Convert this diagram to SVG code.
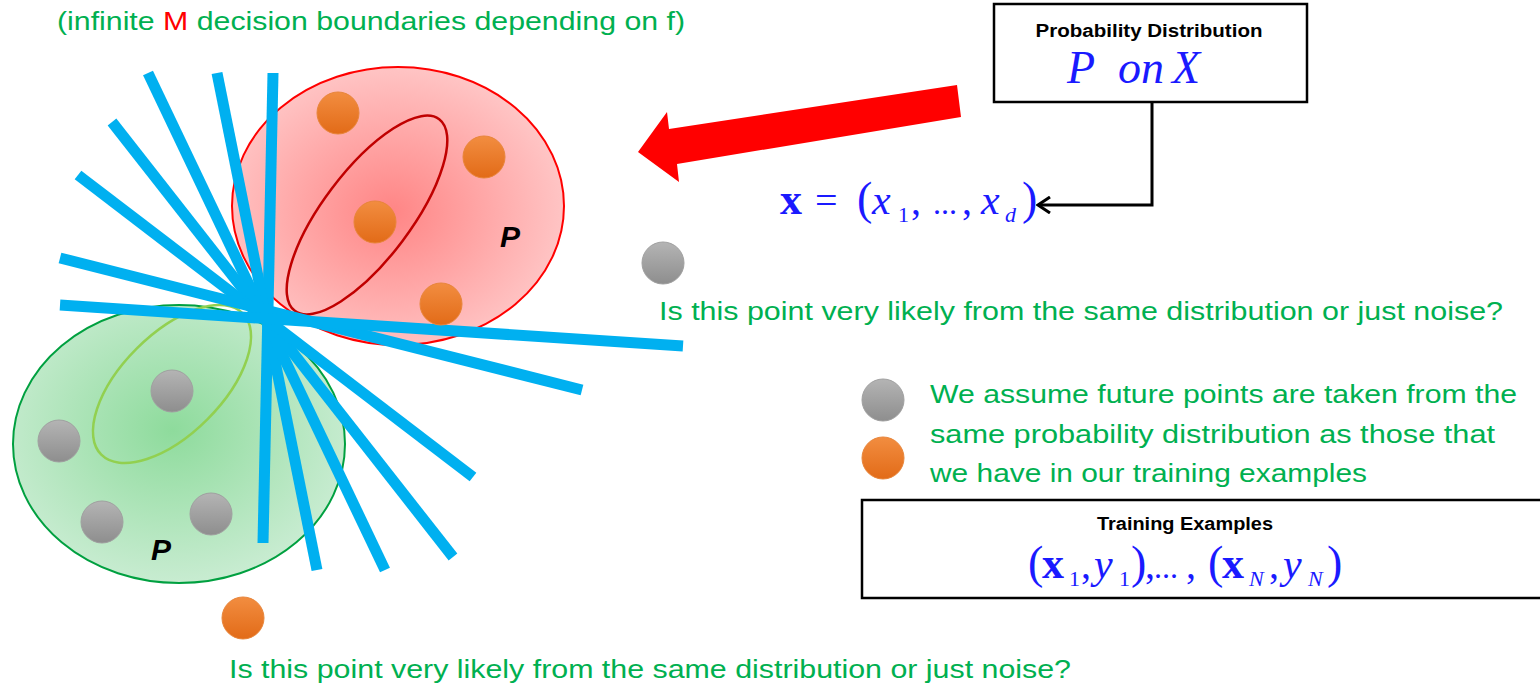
<svg xmlns="http://www.w3.org/2000/svg" width="1540" height="685" viewBox="0 0 1540 685">
<style>
.g{font-family:"Liberation Sans",Arial,sans-serif;fill:#00b050;font-size:25px}
.lbl{font-family:"Liberation Sans",Arial,sans-serif;font-weight:bold;fill:#000}
.m{font-family:"Liberation Serif","Times New Roman",serif;fill:#1a1aff}
.mi{font-style:italic}
.mb{font-weight:bold}
.sub{font-size:22px}
.par{font-size:46px}
.box{fill:#fff;stroke:#000;stroke-width:2.5}
.bl{stroke:#00b0f0;stroke-width:11;fill:none}
.od{fill:url(#og);stroke:#e8853a;stroke-width:1}
.gd{fill:url(#gg);stroke:#a0a0a0;stroke-width:1}
.P{font-family:"Liberation Sans",Arial,sans-serif;font-weight:bold;font-style:italic;font-size:30px;fill:#000}
</style>
<defs>
<radialGradient id="rg" cx="0.48" cy="0.52" r="0.55">
<stop offset="0" stop-color="#ff8585"/><stop offset="1" stop-color="#ffc8c8"/>
</radialGradient>
<radialGradient id="grg" cx="0.48" cy="0.45" r="0.55">
<stop offset="0" stop-color="#8edb9c"/><stop offset="1" stop-color="#c8ecd1"/>
</radialGradient>
<linearGradient id="og" x1="0" y1="0" x2="0" y2="1">
<stop offset="0" stop-color="#f28d40"/><stop offset="1" stop-color="#e26b18"/>
</linearGradient>
<linearGradient id="gg" x1="0" y1="0" x2="0" y2="1">
<stop offset="0" stop-color="#b4b4b4"/><stop offset="1" stop-color="#8e8e8e"/>
</linearGradient>
<marker id="chev" viewBox="0 0 16 18" refX="14" refY="9" markerWidth="16" markerHeight="18" orient="auto" markerUnits="userSpaceOnUse">
<path d="M2,1 L14,9 L2,17" fill="none" stroke="#000" stroke-width="3"/>
</marker>
</defs>
<rect width="1540" height="685" fill="#fff"/>

<text class="g" x="57" y="30" textLength="628" lengthAdjust="spacingAndGlyphs">(infinite <tspan fill="#ff0000">M</tspan> decision boundaries depending on f)</text>

<g id="red-distribution">
<ellipse cx="398" cy="206" rx="166" ry="139" fill="url(#rg)" stroke="#ff0000" stroke-width="2"/>
<ellipse cx="367" cy="215" rx="120" ry="44" transform="rotate(-53 367 215)" fill="none" stroke="#c00000" stroke-width="2.5"/>
<text class="P" x="500" y="247">P</text>
</g>

<g id="green-distribution">
<ellipse cx="179" cy="444" rx="166" ry="139" fill="url(#grg)" stroke="#00a040" stroke-width="2"/>
<ellipse cx="172" cy="384" rx="100" ry="50" transform="rotate(-45 172 384)" fill="none" stroke="#92d050" stroke-width="2.5"/>
<text class="P" x="151" y="560">P</text>
</g>

<g id="decision-boundaries">
<line class="bl" x1="273" y1="73" x2="263" y2="543"/>
<line class="bl" x1="217" y1="73" x2="317" y2="570"/>
<line class="bl" x1="148" y1="73" x2="385" y2="570"/>
<line class="bl" x1="112" y1="122" x2="453" y2="557"/>
<line class="bl" x1="78" y1="175" x2="473" y2="477"/>
<line class="bl" x1="60" y1="258" x2="582" y2="390"/>
<line class="bl" x1="60" y1="305" x2="683" y2="346"/>
</g>

<g id="points">
<circle class="od" cx="338" cy="113" r="21"/>
<circle class="od" cx="484" cy="157" r="21"/>
<circle class="od" cx="375" cy="222" r="21"/>
<circle class="od" cx="441" cy="304" r="21"/>
<circle class="gd" cx="172" cy="391" r="21"/>
<circle class="gd" cx="59" cy="441" r="21"/>
<circle class="gd" cx="102" cy="522" r="21"/>
<circle class="gd" cx="211" cy="514" r="21"/>
</g>

<g id="noise-gray">
<circle class="gd" cx="663" cy="263" r="21"/>
<text class="g" x="659" y="320" font-size="26" textLength="844" lengthAdjust="spacingAndGlyphs">Is this point very likely from the same distribution or just noise?</text>
</g>

<g id="noise-orange">
<circle class="od" cx="243" cy="618" r="21"/>
<text class="g" x="229" y="678" font-size="26" textLength="842" lengthAdjust="spacingAndGlyphs">Is this point very likely from the same distribution or just noise?</text>
</g>

<g id="legend">
<circle class="gd" cx="883" cy="400" r="21"/>
<circle class="od" cx="883" cy="458" r="21"/>
<text class="g" x="930" y="403" font-size="26" textLength="587" lengthAdjust="spacingAndGlyphs">We assume future points are taken from the</text>
<text class="g" x="930" y="443" font-size="26" textLength="565" lengthAdjust="spacingAndGlyphs">same probability distribution as those that</text>
<text class="g" x="930" y="482" font-size="26" textLength="437" lengthAdjust="spacingAndGlyphs">we have in our training examples</text>
</g>

<g id="probability-distribution">
<rect class="box" x="994" y="4" width="313" height="98"/>
<text class="lbl" x="1149" y="37" font-size="18" text-anchor="middle" textLength="227" lengthAdjust="spacingAndGlyphs">Probability Distribution</text>
<text class="m mi" y="83" font-size="46"><tspan x="1067">P</tspan><tspan x="1118">on</tspan><tspan x="1172">X</tspan></text>
</g>

<g id="x-vector">
<text class="m" y="214" font-size="40"><tspan x="780" class="mb" font-size="44">x</tspan><tspan x="815">=</tspan><tspan x="857" class="par">(</tspan><tspan x="872" class="mi" font-size="42">x</tspan><tspan x="898" y="222" class="sub">1</tspan><tspan x="911" y="214">,</tspan><tspan x="933" font-size="32">...</tspan><tspan x="962">,</tspan><tspan x="981" class="mi" font-size="42">x</tspan><tspan x="1005" y="222" class="sub mi">d</tspan><tspan x="1022" y="214" class="par">)</tspan></text>
</g>

<g id="training-examples">
<rect class="box" x="862" y="500" width="690" height="98"/>
<text class="lbl" x="1185" y="530" font-size="18" text-anchor="middle" textLength="176" lengthAdjust="spacingAndGlyphs">Training Examples</text>
<text class="m" y="578" font-size="40"><tspan x="1028" class="par">(</tspan><tspan x="1042" class="mb" font-size="44">x</tspan><tspan x="1069" y="586" class="sub">1</tspan><tspan x="1081" y="578">,</tspan><tspan x="1094" class="mi" font-size="42">y</tspan><tspan x="1119" y="586" class="sub">1</tspan><tspan x="1131" y="578" class="par">)</tspan><tspan x="1145">,</tspan><tspan x="1154" font-size="32">...</tspan><tspan x="1186">,</tspan><tspan x="1208" class="par">(</tspan><tspan x="1222" class="mb" font-size="44">x</tspan><tspan x="1249" y="586" class="sub mi">N</tspan><tspan x="1269" y="578">,</tspan><tspan x="1283" class="mi" font-size="42">y</tspan><tspan x="1308" y="586" class="sub mi">N</tspan><tspan x="1327" y="578" class="par">)</tspan></text>
</g>

<g id="connectors">
<polygon points="957,85 961,117 677,164 679,182 638,152 667,112 669,129" fill="#ff0000"/>
<polyline points="1152,102 1152,205 1038,205" fill="none" stroke="#000" stroke-width="3" marker-end="url(#chev)"/>
</g>
</svg>
